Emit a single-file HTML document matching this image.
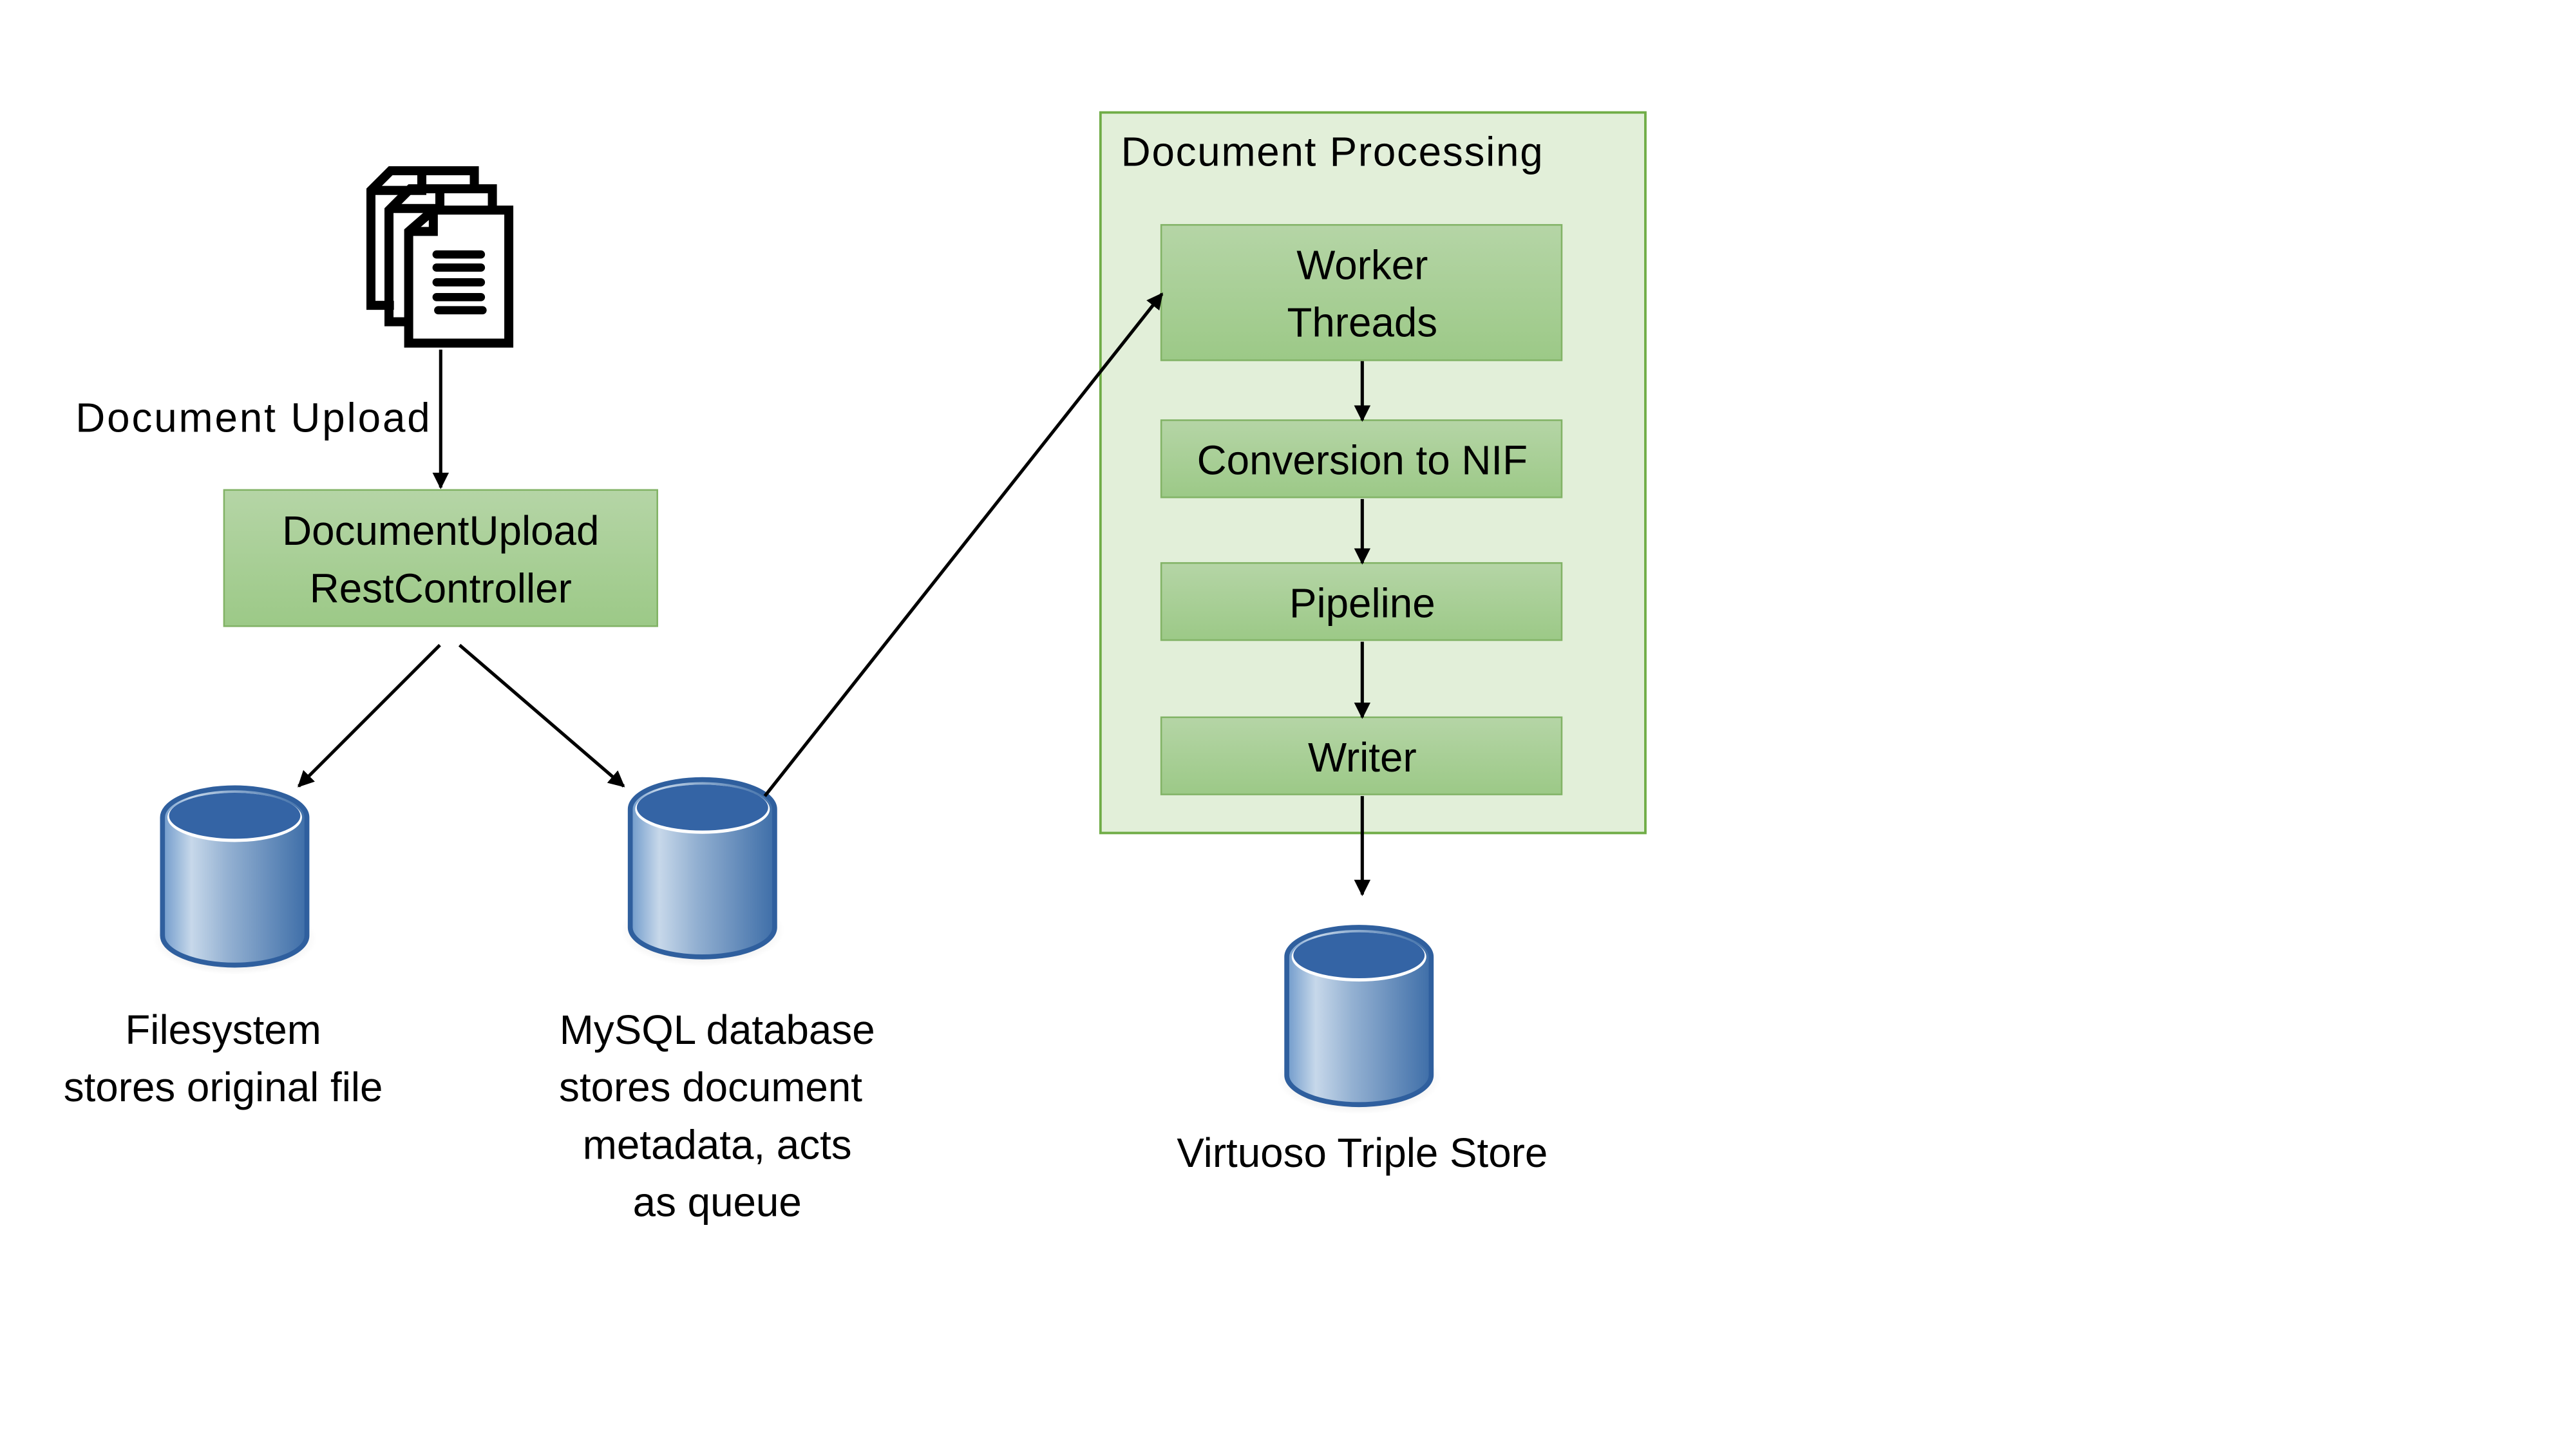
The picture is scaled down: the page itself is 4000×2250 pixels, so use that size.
<!DOCTYPE html>
<html><head><meta charset="utf-8"><style>
html,body{margin:0;padding:0;background:#fff;width:4000px;height:2250px;overflow:hidden}
svg{display:block}
text{font-family:"Liberation Sans",sans-serif;font-size:25px;fill:#000}
</style></head><body>
<svg width="4000" height="2250" viewBox="0 0 1569.5 882.8" xmlns="http://www.w3.org/2000/svg">
<defs>
<linearGradient id="g" x1="0" y1="0" x2="0" y2="1"><stop offset="0" stop-color="#b5d5a6"/><stop offset="1" stop-color="#9cc987"/></linearGradient>
<linearGradient id="cyl" x1="0" y1="0" x2="1" y2="0"><stop offset="0" stop-color="#6f9acb"/><stop offset="0.2" stop-color="#c7d8ea"/><stop offset="0.45" stop-color="#94b1d2"/><stop offset="1" stop-color="#3e6ea8"/></linearGradient>
<radialGradient id="sh" cx="0.5" cy="0.5" r="0.5"><stop offset="0" stop-color="#000" stop-opacity="0.25"/><stop offset="1" stop-color="#000" stop-opacity="0"/></radialGradient>
<marker id="a" viewBox="0 0 10 10" refX="9" refY="5" markerWidth="10" markerHeight="10" orient="auto" markerUnits="userSpaceOnUse"><path d="M0,0L10,5L0,10z" fill="#000"/></marker>
<g id="db">
<ellipse cx="44" cy="92" rx="50" ry="22" fill="url(#sh)"/>
<path d="M0,18 A44,18 0 0 1 88,18 L88,90 A44,18 0 0 1 0,90 Z" fill="url(#cyl)" stroke="#2f5f9e" stroke-width="3"/>
<ellipse cx="44" cy="18" rx="41" ry="15" fill="#fff"/>
<ellipse cx="44" cy="17" rx="40" ry="14" fill="#3464a5"/>
</g>
</defs>
<g fill="none" stroke="#000" stroke-width="5.5">
<path d="M289,116 L289,104 L255,104 L238,104 L226,116 L226,186 L240,186"/>
<path d="M257,104 L257,116 L228,116"/>
<path d="M300,128 L300,115 L266,115 L250,115 L237,128 L237,196 L250,196"/>
<path d="M268,115 L268,127 L239,127"/>
<path d="M264,128 L310,128 L310,209 L249,209 L249,141 Z"/>
<path d="M264,128 L264,141 L251,141"/>
</g>
<g stroke="#000" stroke-width="5" stroke-linecap="round">
<line x1="266" y1="155" x2="293" y2="155"/><line x1="266" y1="163" x2="293" y2="163"/><line x1="266" y1="172" x2="293" y2="172"/><line x1="266" y1="181" x2="293" y2="181"/><line x1="267" y1="189" x2="294" y2="189"/>
</g>
<line x1="268.5" y1="213" x2="268.5" y2="297" stroke="#000" stroke-width="2" marker-end="url(#a)"/>
<text x="46" y="263" textLength="216">Document Upload</text>
<rect x="136.5" y="298.5" width="264" height="83" fill="url(#g)" stroke="#82b366" stroke-width="1"/>
<text x="268.5" y="332" text-anchor="middle">DocumentUpload</text>
<text x="268.5" y="367" text-anchor="middle">RestController</text>
<line x1="268" y1="393" x2="182" y2="479" stroke="#000" stroke-width="2" marker-end="url(#a)"/>
<line x1="280" y1="393" x2="380" y2="479" stroke="#000" stroke-width="2" marker-end="url(#a)"/>
<use href="#db" x="99" y="480"/>
<use href="#db" x="384" y="475"/>
<text x="136" y="636" text-anchor="middle">Filesystem</text>
<text x="136" y="671" text-anchor="middle">stores original file</text>
<text x="437" y="636" text-anchor="middle">MySQL database</text>
<text x="433" y="671" text-anchor="middle">stores document</text>
<text x="437" y="706" text-anchor="middle">metadata, acts</text>
<text x="437" y="741" text-anchor="middle">as queue</text>
<rect x="670.5" y="68.5" width="332" height="439" fill="#e2efd9" stroke="#70ad47" stroke-width="1.5"/>
<text x="683" y="101" textLength="257">Document Processing</text>
<rect x="707.5" y="137" width="244" height="82.5" fill="url(#g)" stroke="#82b366"/>
<text x="830" y="170" text-anchor="middle">Worker</text>
<text x="830" y="205" text-anchor="middle">Threads</text>
<rect x="707.5" y="256" width="244" height="47" fill="url(#g)" stroke="#82b366"/>
<text x="830" y="289" text-anchor="middle">Conversion to NIF</text>
<rect x="707.5" y="343" width="244" height="47" fill="url(#g)" stroke="#82b366"/>
<text x="830" y="376" text-anchor="middle">Pipeline</text>
<rect x="707.5" y="437" width="244" height="47" fill="url(#g)" stroke="#82b366"/>
<text x="830" y="470" text-anchor="middle">Writer</text>
<g stroke="#000" stroke-width="2">
<line x1="830" y1="220" x2="830" y2="256" marker-end="url(#a)"/>
<line x1="830" y1="304" x2="830" y2="343" marker-end="url(#a)"/>
<line x1="830" y1="391" x2="830" y2="437" marker-end="url(#a)"/>
<line x1="830" y1="485" x2="830" y2="545" marker-end="url(#a)"/>
<line x1="466" y1="485" x2="708" y2="179" marker-end="url(#a)"/>
</g>
<use href="#db" x="784" y="565"/>
<text x="830" y="711" text-anchor="middle">Virtuoso Triple Store</text>
</svg>
</body></html>
